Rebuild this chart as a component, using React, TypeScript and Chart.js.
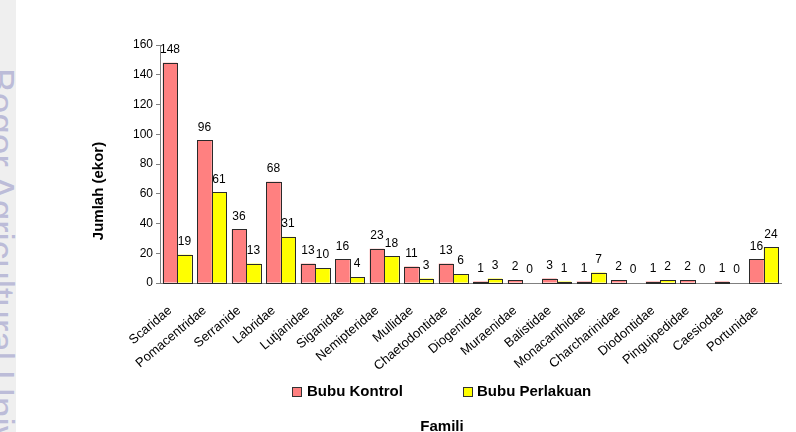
import React, { useEffect, useRef } from "react";
import { Chart, registerables } from "chart.js";

Chart.register(...registerables);

const categories = [
  "Scaridae", "Pomacentridae", "Serranide", "Labridae", "Lutjanidae", "Siganidae",
  "Nemipteridae", "Mullidae", "Chaetodontidae", "Diogenidae", "Muraenidae", "Balistidae",
  "Monacanthidae", "Charcharinidae", "Diodontidae", "Pinguipedidae", "Caesiodae", "Portunidae",
];
const bubuKontrol = [148, 96, 36, 68, 13, 16, 23, 11, 13, 1, 2, 3, 1, 2, 1, 2, 1, 16];
const bubuPerlakuan = [19, 61, 13, 31, 10, 4, 18, 3, 6, 3, 0, 1, 7, 0, 2, 0, 0, 24];
const seriesNames = ["Bubu Kontrol", "Bubu Perlakuan"];
const seriesColors = ["#FF8080", "#FFFF00"];
const yAxisTitle = "Jumlah (ekor)";
const xAxisTitle = "Famili";
const watermark = "Bogor Agricultural University";
const yMin = 0;
const yMax = 160;
const yStep = 20;

const FONT = "'Liberation Sans', Arial, Helvetica, sans-serif";

const outlinePlugin = {
  id: "barOutlines",
  afterDatasetsDraw(chart: any) {
    const ctx = chart.ctx;
    ctx.save();
    ctx.strokeStyle = "#2a2a2a";
    ctx.lineWidth = 1;
    chart.data.datasets.forEach((ds: any, di: number) => {
      const meta = chart.getDatasetMeta(di);
      meta.data.forEach((el: any, i: number) => {
        if (!ds.data[i]) return;
        const l = Math.round(el.x - el.width / 2);
        const r = Math.round(el.x + el.width / 2);
        const t = Math.round(el.y);
        const b = Math.round(el.base);
        ctx.strokeRect(l + 0.5, t + 0.5, r - l, Math.max(b - t, 1));
      });
    });
    ctx.restore();
  },
};

const labelsPlugin = {
  id: "valueLabels",
  afterDatasetsDraw(chart: any) {
    const ctx = chart.ctx;
    ctx.save();
    ctx.font = `12px ${FONT}`;
    ctx.fillStyle = "#000";
    ctx.textAlign = "center";
    ctx.textBaseline = "middle";
    chart.data.datasets.forEach((ds: any, di: number) => {
      const meta = chart.getDatasetMeta(di);
      meta.data.forEach((el: any, i: number) => {
        ctx.fillText(String(ds.data[i]), el.x, el.y - 13);
      });
    });
    ctx.restore();
  },
};

const decorPlugin = {
  id: "decor",
  afterDraw(chart: any) {
    const ctx = chart.ctx;
    ctx.save();
    ctx.fillStyle = "#000";
    ctx.font = `bold 15px ${FONT}`;
    // y title
    ctx.save();
    ctx.translate(99, 191);
    ctx.rotate(-Math.PI / 2);
    ctx.textAlign = "center";
    ctx.textBaseline = "middle";
    ctx.fillText(yAxisTitle, 0, 0);
    ctx.restore();
    // legend
    const items = [
      { x: 292, tx: 307 },
      { x: 463, tx: 477 },
    ];
    items.forEach((it, i) => {
      ctx.fillStyle = seriesColors[i];
      ctx.fillRect(it.x, 387, 10, 10);
      ctx.strokeStyle = "#333";
      ctx.lineWidth = 1;
      ctx.strokeRect(it.x + 0.5, 387.5, 9, 9);
      ctx.fillStyle = "#000";
      ctx.textAlign = "left";
      ctx.textBaseline = "middle";
      ctx.fillText(seriesNames[i], it.tx, 392);
    });
    // x title
    ctx.textAlign = "center";
    ctx.textBaseline = "middle";
    ctx.fillText(xAxisTitle, 442, 427);
    ctx.restore();
  },
};

export default function App() {
  const canvasRef = useRef<HTMLCanvasElement | null>(null);

  useEffect(() => {
    if (!canvasRef.current) return;
    const chart = new Chart(canvasRef.current, {
      type: "bar",
      data: {
        labels: categories,
        datasets: [
          {
            label: seriesNames[0],
            data: bubuKontrol,
            backgroundColor: seriesColors[0],
            borderWidth: 0,
            categoryPercentage: 0.84,
            barPercentage: 1,
          },
          {
            label: seriesNames[1],
            data: bubuPerlakuan,
            backgroundColor: seriesColors[1],
            borderWidth: 0,
            categoryPercentage: 0.84,
            barPercentage: 1,
          },
        ],
      },
      options: {
        responsive: false,
        animation: false,
        devicePixelRatio: 1,
        layout: { padding: { top: 45, right: 15, left: 0, bottom: 0 } },
        plugins: {
          legend: { display: false },
          tooltip: { enabled: false },
          title: { display: false },
        },
        scales: {
          x: {
            grid: { display: false },
            border: { display: true, color: "#808080", width: 1 },
            ticks: {
              autoSkip: false,
              maxRotation: 40,
              minRotation: 40,
              color: "#000",
              font: { family: FONT, size: 13 },
              padding: 12,
              labelOffset: -7,
            },
            afterFit(scale: any) {
              scale.height = 149;
            },
          },
          y: {
            min: yMin,
            max: yMax,
            grid: {
              display: true,
              drawOnChartArea: false,
              drawTicks: true,
              tickLength: 4,
              color: "#808080",
            },
            border: { display: true, color: "#808080", width: 1 },
            ticks: {
              stepSize: yStep,
              color: "#000",
              font: { family: FONT, size: 12 },
              padding: 3,
            },
            afterFit(scale: any) {
              scale.width = 160;
            },
          },
        },
      },
      plugins: [outlinePlugin, labelsPlugin, decorPlugin],
    });
    return () => chart.destroy();
  }, []);

  return (
    <div
      style={{
        position: "absolute",
        left: 0,
        top: 0,
        width: 796,
        height: 432,
        overflow: "hidden",
        background: "#fff",
      }}
    >
      <div
        style={{
          position: "absolute",
          left: 0,
          top: 0,
          width: 16,
          height: 432,
          background: "#efefef",
        }}
      />
      <div
        style={{
          position: "absolute",
          left: 19,
          top: 68,
          transformOrigin: "0 0",
          transform: "rotate(90deg)",
          whiteSpace: "nowrap",
          fontFamily: FONT,
          fontSize: 37,
          lineHeight: "37px",
          color: "#bcbcd8",
        }}
      >
        {watermark}
      </div>
      <canvas
        ref={canvasRef}
        width={796}
        height={432}
        style={{ position: "absolute", left: 0, top: 0, width: 796, height: 432 }}
      />
    </div>
  );
}
